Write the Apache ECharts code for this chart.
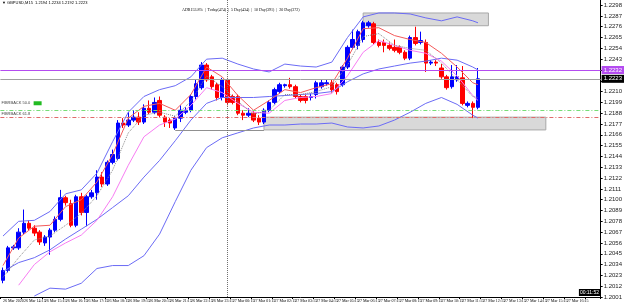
<!DOCTYPE html>
<html>
<head>
<meta charset="utf-8">
<script src="https://cdn.jsdelivr.net/npm/echarts@6/dist/echarts.min.js"></script>
<style>
  html, body { margin: 0; padding: 0; background: #fff; }
  #chart { width: 625px; height: 303px; }
</style>
</head>
<body>
<div id="chart"></div>
<script>
// GBPUSD M15, 26 Mar 13:15 .. 27 Mar 12:00
const slotCount = 115
const categories = []
for (let i = 0; i < slotCount; i++) {
  const m = 13 * 60 + 15 + i * 15
  const day = 26 + Math.floor(m / 1440)
  const hh = String(Math.floor((m % 1440) / 60)).padStart(2, '0')
  const mm = String(m % 60).padStart(2, '0')
  categories.push(day + ' Mar ' + hh + ':' + mm)
}

const opens = [
  1.2018, 1.2028, 1.2051, 1.2051, 1.2067, 1.2076, 1.2071, 1.2067, 1.2056, 1.2062,
  1.2069, 1.2080, 1.2102, 1.2096, 1.2074, 1.2103, 1.2087, 1.2103, 1.2107, 1.2123,
  1.2116, 1.2138, 1.2142, 1.2178, 1.2176, 1.2181, 1.2184, 1.2179, 1.2193, 1.2189,
  1.2201, 1.2184, 1.2181, 1.2173, 1.2183, 1.2189, 1.2191, 1.2205, 1.2214, 1.2237,
  1.2225, 1.2217, 1.2204, 1.2222, 1.2205, 1.2205, 1.2188, 1.2186, 1.2188, 1.2183,
  1.2179, 1.2191, 1.2199, 1.2210, 1.2216, 1.2217, 1.2215, 1.2205, 1.2205, 1.2204,
  1.2207, 1.2215, 1.2218, 1.2219, 1.2217, 1.2217, 1.2235, 1.2255, 1.2257, 1.2263,
  1.2277, 1.2279, 1.2260, 1.2260, 1.2257, 1.2255, 1.2255, 1.2250, 1.2244, 1.2265,
  1.2260, 1.2260, 1.2239, 1.2240, 1.2234, 1.2225, 1.2215, 1.2222, 1.2224, 1.2196,
  1.2198, 1.2194
]
const closes = [
  1.2028, 1.2051, 1.2052, 1.2067, 1.2076, 1.2071, 1.2066, 1.2057, 1.2062, 1.2069,
  1.2080, 1.2102, 1.2097, 1.2074, 1.2103, 1.2087, 1.2103, 1.2107, 1.2123, 1.2116,
  1.2138, 1.2146, 1.2178, 1.2176, 1.2181, 1.2184, 1.2179, 1.2193, 1.2189, 1.2199,
  1.2186, 1.2179, 1.2178, 1.2183, 1.2191, 1.2191, 1.2205, 1.2218, 1.2237, 1.2222,
  1.2215, 1.2204, 1.2222, 1.2199, 1.2199, 1.2188, 1.2186, 1.2188, 1.2181, 1.2179,
  1.2191, 1.2199, 1.2212, 1.2217, 1.2217, 1.2215, 1.2205, 1.2201, 1.2201, 1.2205,
  1.2219, 1.2219, 1.2219, 1.2212, 1.2210, 1.2235, 1.2255, 1.2263, 1.2271, 1.2280,
  1.2280, 1.2260, 1.2257, 1.2257, 1.2254, 1.2252, 1.2250, 1.2244, 1.2265, 1.2259,
  1.2262, 1.2239, 1.2240, 1.2239, 1.2225, 1.2214, 1.2225, 1.2225, 1.2198, 1.2198,
  1.2194, 1.2223
]
const lows = [
  1.2015, 1.2026, 1.2049, 1.2049, 1.2065, 1.2069, 1.2063, 1.2054, 1.2053, 1.2044,
  1.2067, 1.2078, 1.2094, 1.2072, 1.2072, 1.2084, 1.2073, 1.2101, 1.2100, 1.2113,
  1.2114, 1.2136, 1.2140, 1.2173, 1.2174, 1.2179, 1.2176, 1.2177, 1.2187, 1.2187,
  1.2184, 1.2174, 1.2173, 1.2171, 1.2179, 1.2187, 1.2189, 1.2202, 1.2212, 1.2220,
  1.2212, 1.2201, 1.2201, 1.2196, 1.2197, 1.2186, 1.2181, 1.2184, 1.2179, 1.2176,
  1.2177, 1.2189, 1.2197, 1.2208, 1.2214, 1.2213, 1.2203, 1.2199, 1.2198, 1.2201,
  1.2203, 1.2213, 1.2216, 1.2209, 1.2207, 1.2215, 1.2233, 1.2253, 1.2253, 1.2260,
  1.2275, 1.2258, 1.2255, 1.2250, 1.2252, 1.2250, 1.2248, 1.2242, 1.2242, 1.2257,
  1.2258, 1.2230, 1.2237, 1.2236, 1.2223, 1.2212, 1.2213, 1.2220, 1.2196, 1.2194,
  1.2183, 1.2192
]
const highs = [
  1.2031, 1.2053, 1.2054, 1.2071, 1.2090, 1.2079, 1.2074, 1.2069, 1.2064, 1.2071,
  1.2083, 1.2110, 1.2104, 1.2100, 1.2105, 1.2107, 1.2105, 1.2110, 1.2130, 1.2128,
  1.2140, 1.2151, 1.2181, 1.2183, 1.2189, 1.2191, 1.2189, 1.2197, 1.2201, 1.2204,
  1.2205, 1.2186, 1.2183, 1.2185, 1.2196, 1.2194, 1.2207, 1.2222, 1.2240, 1.2239,
  1.2227, 1.2219, 1.2224, 1.2224, 1.2207, 1.2207, 1.2191, 1.2193, 1.2190, 1.2186,
  1.2193, 1.2201, 1.2214, 1.2219, 1.2218, 1.2224, 1.2217, 1.2207, 1.2207, 1.2208,
  1.2221, 1.2222, 1.2222, 1.2222, 1.2219, 1.2237, 1.2257, 1.2273, 1.2273, 1.2282,
  1.2282, 1.2281, 1.2263, 1.2263, 1.2260, 1.2263, 1.2257, 1.2252, 1.2267, 1.2276,
  1.2271, 1.2263, 1.2242, 1.2242, 1.2238, 1.2227, 1.2237, 1.2237, 1.2236, 1.2200,
  1.2200, 1.2234
]

// indicator lines, sampled every 3rd bar
const lineIdx = [0, 3, 6, 9, 12, 15, 18, 21, 24, 27, 30, 33, 36, 39, 42, 45,
  48, 51, 54, 57, 60, 63, 66, 69, 72, 75, 78, 81, 84, 87, 90, 91]
const bandUpper = [1.2063, 1.2078, 1.2079, 1.2088, 1.2106, 1.2110, 1.2127, 1.2159,
  1.2189, 1.2205, 1.2212, 1.2216, 1.2225, 1.2243, 1.2244, 1.2238, 1.2233, 1.2230,
  1.2238, 1.2236, 1.2235, 1.2240, 1.2265, 1.2286, 1.2290, 1.2290, 1.2289, 1.2285,
  1.2282, 1.2286, 1.2282, 1.2280]
const bandMiddle = [1.2027, 1.2036, 1.2041, 1.2049, 1.2060, 1.2070, 1.2080, 1.2092,
  1.2104, 1.2123, 1.2140, 1.2160, 1.2181, 1.2198, 1.2204, 1.2204, 1.2204, 1.2205,
  1.2206, 1.2207, 1.2208, 1.2210, 1.2220, 1.2228, 1.2233, 1.2236, 1.2239, 1.2241,
  1.2244, 1.2242, 1.2235, 1.2232]
const bandLower = [null, null, 1.2002, 1.2010, 1.2009, 1.2015, 1.2030, 1.2033,
  1.2033, 1.2043, 1.2065, 1.2098, 1.2130, 1.2153, 1.2163, 1.2168, 1.2173, 1.2176,
  1.2176, 1.2177, 1.2177, 1.2178, 1.2174, 1.2173, 1.2175, 1.2181, 1.2189, 1.2198,
  1.2204, 1.2197, 1.2186, 1.2183]
const maFast = [1.2033, 1.2061, 1.2073, 1.2074, 1.2093, 1.2100, 1.2118, 1.2146,
  1.2183, 1.2195, 1.2198, 1.2191, 1.2207, 1.2235, 1.2225, 1.2206, 1.2191, 1.2201,
  1.2212, 1.2209, 1.2214, 1.2218, 1.2244, 1.2274, 1.2275, 1.2267, 1.2263, 1.2260,
  1.2249, 1.2235, 1.2219, 1.2217]
const maSlow = [null, 1.2013, 1.2034, 1.2047, 1.2056, 1.2064, 1.2079, 1.2103,
  1.2135, 1.2164, 1.2176, 1.2182, 1.2196, 1.2214, 1.2209, 1.2198, 1.2189, 1.2188,
  1.2201, 1.2204, 1.2205, 1.2208, 1.2226, 1.2250, 1.2262, 1.2257, 1.2252, 1.2249,
  1.2241, 1.2226, 1.2206, 1.2201]
const maMid = [1.2021, 1.2041, 1.2059, 1.2063, 1.2074, 1.2086, 1.2104, 1.2130,
  1.2168, 1.2186, 1.2189, 1.2185, 1.2200, 1.2226, 1.2215, 1.2200, 1.2187, 1.2191,
  1.2207, 1.2207, 1.2210, 1.2215, 1.2237, 1.2266, 1.2269, 1.2257, 1.2254, 1.2252,
  1.2239, 1.2222, 1.2205, 1.2204]

// horizontal levels
const resistLevel = 1.2232
const bidLevel = 1.2223
const fibLevels = [1.2191, 1.2184]
const fibNames = ['FIBRBACK 50.0', 'FIBRBACK 61.8']
// zones: [fromBar, toBar, top, bottom]
const zones = [[69, 93, 1.2290, 1.2277], [50, 104, 1.2184, 1.2171]]
const zoneTail = [33, 50, 1.2171]
const daySplitBar = 43

const toLine = arr => lineIdx.map((k, j) => [categories[k], arr[j]])

const chart = echarts.init(document.getElementById('chart'))

const lineSeries = (data, color, type) => ({
  type: 'line',
  data: toLine(data),
  symbol: 'none',
  z: 4,
  silent: true,
  lineStyle: { color, width: 1, type: type || 'solid' },
})

chart.setOption({
  animation: false,
  textStyle: { fontFamily: 'Liberation Sans' },
  grid: { left: 0, right: 24, top: 0, bottom: 6 },
  graphic: [
    {
      type: 'text', left: 2, top: 1,
      style: { text: '▼ GBPUSD,M15  1.2194 1.2234 1.2192 1.2223', fontSize: 4, fill: '#000', fontFamily: 'Liberation Sans' },
    },
    {
      type: 'text', left: 182, top: 8,
      style: { text: 'ADR153.8%  |  Today(474)  |  5 Day(434)  |  10 Day(391)  |  20 Day(372)', fontSize: 4, fill: '#000', fontFamily: 'Liberation Sans Narrow' },
    },
    {
      type: 'text', right: 25, bottom: 7,
      style: { text: '00:11:52', fontSize: 5, fill: '#fff', backgroundColor: '#000', padding: [1, 1], fontFamily: 'Liberation Sans' },
    },
  ],
  xAxis: {
    type: 'category',
    data: categories,
    boundaryGap: true,
    axisLine: { lineStyle: { color: '#000', width: 1 } },
    axisTick: { show: true, interval: 3, length: 2, lineStyle: { color: '#000' } },
    axisLabel: {
      interval: 3, fontSize: 4, color: '#000', align: 'left', margin: 2,
      fontFamily: 'Liberation Sans Narrow',
      formatter: (v, i) => (i === 0 ? '26 Mar 2020' : v),
    },
    splitLine: { show: false },
  },
  yAxis: {
    type: 'value',
    position: 'right',
    min: 1.2001,
    max: 1.23032,
    interval: 0.0011,
    axisLine: { show: true, lineStyle: { color: '#000', width: 1 } },
    axisTick: { show: true, length: 2, lineStyle: { color: '#000' } },
    axisLabel: {
      fontSize: 6, color: '#222', margin: 3,
      showMinLabel: true, showMaxLabel: false,
      formatter: v => v.toFixed(4),
    },
    splitLine: { show: false },
  },
  series: [
    {
      // zones and levels
      type: 'line',
      data: [],
      z: 1,
      silent: true,
      markArea: {
        silent: true,
        itemStyle: { color: '#d9d9d9', borderColor: '#a8a8a8', borderWidth: 1 },
        data: zones.map(z => [
          { xAxis: categories[z[0]], yAxis: z[2] },
          { xAxis: categories[z[1]], yAxis: z[3] },
        ]),
      },
      markLine: {
        silent: true,
        symbol: 'none',
        precision: 4,
        animation: false,
        data: [
          {
            yAxis: resistLevel,
            lineStyle: { color: '#b44cf0', width: 1, type: 'solid' },
            label: {
              position: 'end', distance: 1, formatter: resistLevel.toFixed(4),
              fontSize: 6, color: '#fff', backgroundColor: '#b44cf0', padding: [1, 2],
            },
          },
          {
            yAxis: bidLevel,
            lineStyle: { color: '#a0a0a0', width: 1, type: 'solid' },
            label: {
              position: 'end', distance: 1, formatter: bidLevel.toFixed(4),
              fontSize: 6, color: '#fff', backgroundColor: '#000', padding: [1, 2],
            },
          },
          {
            yAxis: fibLevels[0],
            lineStyle: { color: '#77dd77', width: 1, type: [4, 2, 1, 2] },
            label: {
              position: 'insideStartTop', distance: 1,
              formatter: '{t|' + fibNames[0] + '} {g|}',
              rich: {
                t: { fontSize: 4, color: '#444' },
                g: { backgroundColor: '#22bb22', width: 8, height: 4 },
              },
            },
          },
          {
            yAxis: fibLevels[1],
            lineStyle: { color: '#e06a6a', width: 1, type: [4, 2, 1, 2] },
            label: {
              position: 'insideStartTop', distance: 1, formatter: fibNames[1],
              fontSize: 4, color: '#444',
            },
          },
          [
            { coord: [categories[zoneTail[0]], zoneTail[2]], lineStyle: { color: '#909090', width: 1, type: 'solid' }, label: { show: false } },
            { coord: [categories[zoneTail[1]], zoneTail[2]] },
          ],
          {
            xAxis: categories[daySplitBar],
            lineStyle: { color: '#707070', width: 1, type: 'dotted' },
            label: { show: false },
          },
        ],
      },
    },
    {
      type: 'candlestick',
      data: opens.map((o, i) => [o, closes[i], lows[i], highs[i]]),
      barWidth: 4,
      z: 3,
      silent: true,
      itemStyle: {
        color: '#0000ff', color0: '#ff0000',
        borderColor: '#0000ff', borderColor0: '#ff0000', borderWidth: 1,
      },
    },
    lineSeries(bandUpper, '#6b6bf5'),
    lineSeries(bandMiddle, '#6b6bf5'),
    lineSeries(bandLower, '#6b6bf5'),
    lineSeries(maFast, '#f35a5a'),
    lineSeries(maSlow, '#f77cf2'),
    lineSeries(maMid, '#8a8a8a', 'dotted'),
  ],
})
</script>
</body>
</html>
